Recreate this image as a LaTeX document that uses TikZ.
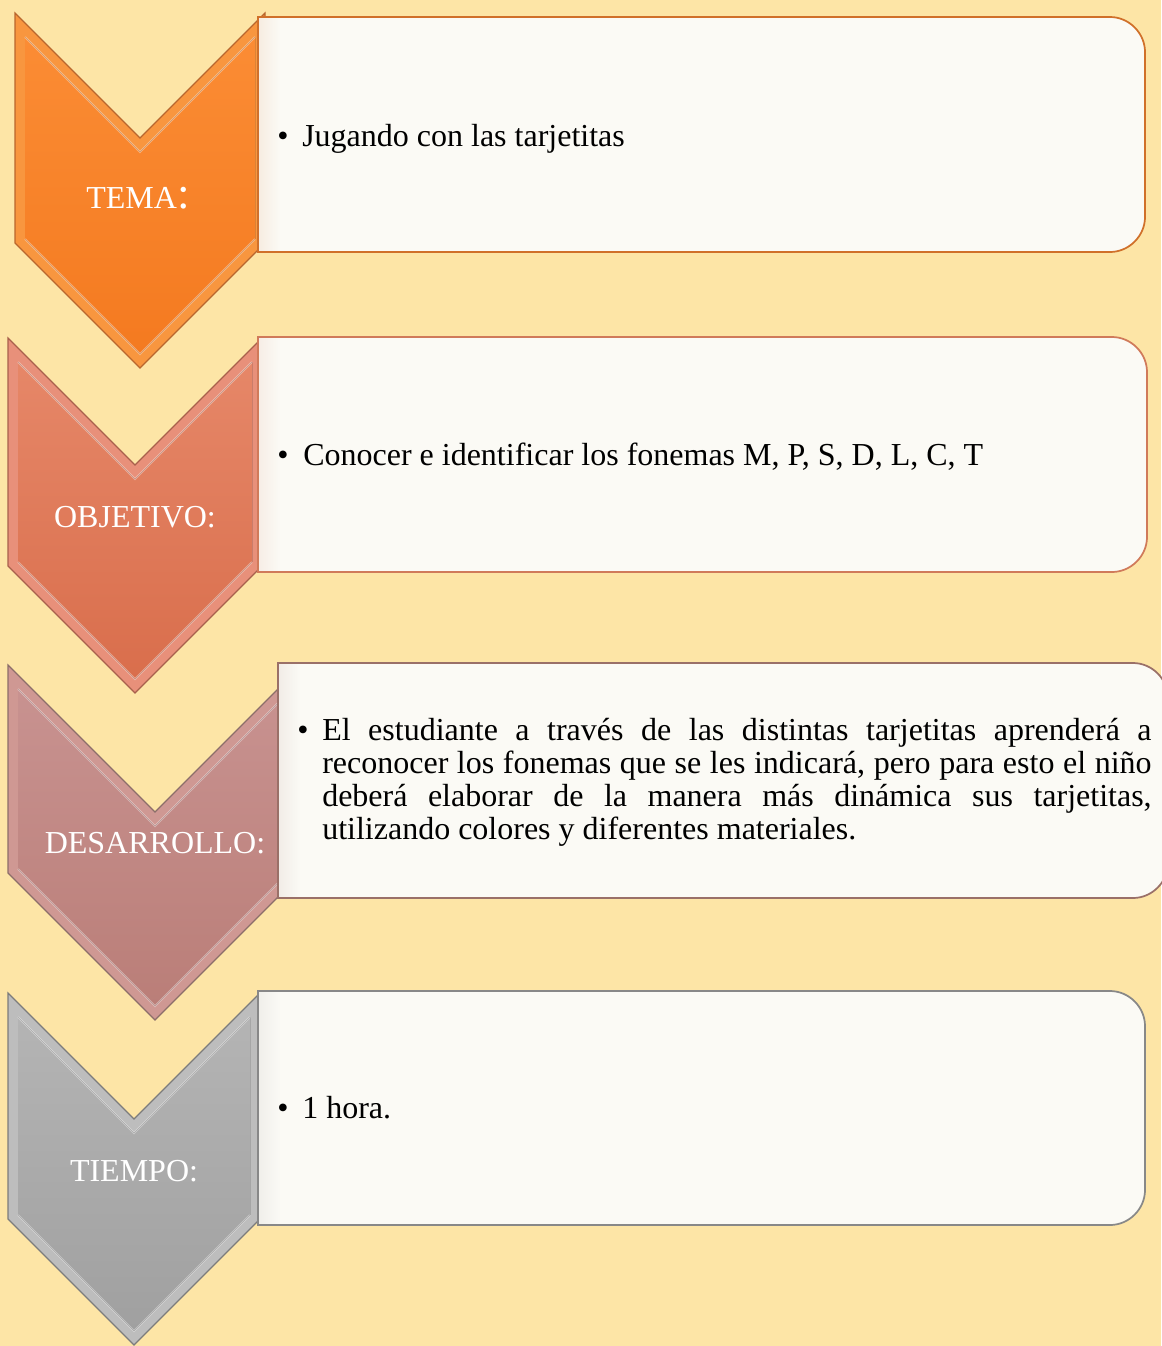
\documentclass[tikz,border=0pt]{standalone}
\usepackage{fontspec}
\setmainfont{Liberation Serif}
\definecolor{bg}{HTML}{FDE5A6}
\definecolor{boxfill}{HTML}{FBFAF5}
\definecolor{oA}{HTML}{FB8C34}\definecolor{oB}{HTML}{F47A20}\definecolor{oBev}{HTML}{F8963F}\definecolor{oLine}{HTML}{B8662E}
\definecolor{sA}{HTML}{E68768}\definecolor{sB}{HTML}{D96E4C}\definecolor{sBev}{HTML}{E8907A}\definecolor{sLine}{HTML}{A8604C}
\definecolor{rA}{HTML}{C89290}\definecolor{rB}{HTML}{BA7E78}\definecolor{rBev}{HTML}{CF9893}\definecolor{rLine}{HTML}{8C6E6A}
\definecolor{gA}{HTML}{B4B4B4}\definecolor{gB}{HTML}{A0A0A0}\definecolor{gBev}{HTML}{BDBDBD}\definecolor{gLine}{HTML}{7C7C7C}
\definecolor{bxA}{HTML}{D0702A}\definecolor{bxB}{HTML}{D07A5A}\definecolor{bxC}{HTML}{9A7068}\definecolor{bxD}{HTML}{888888}
\newcommand\mkchev[8]{%
  \fill[#5, draw=#8, line width=0.9pt] (#1,#3) -- (#2,{#3+#2-#1}) -- ({2*#2-#1},#3) -- ({2*#2-#1},#4) -- (#2,{#4+#2-#1}) -- (#1,#4) -- cycle;
  \fill[top color=#6, bottom color=#7] ({#1+10},{#3+24}) -- (#2,{#3+#2-#1+14}) -- ({2*#2-#1-10},{#3+24}) -- ({2*#2-#1-10},{#4-4}) -- (#2,{#4+#2-#1-14}) -- ({#1+10},{#4-4}) -- cycle;
  \draw[white, opacity=0.35, line width=1.5pt] ({#1+10},{#3+24}) -- (#2,{#3+#2-#1+14}) -- ({2*#2-#1-10},{#3+24});
  \draw[white, opacity=0.35, line width=1.5pt] ({#1+10},{#4-4}) -- (#2,{#4+#2-#1-14}) -- ({2*#2-#1-10},{#4-4});
}
\newcommand\mkbox[5]{%
  \fill[boxfill] (#1,#2) -- ({#3-35},#2) .. controls ({#3-16},#2) and (#3,{#2+16}) .. (#3,{#2+35}) -- (#3,{#4-35}) .. controls (#3,{#4-16}) and ({#3-16},#4) .. ({#3-35},#4) -- (#1,#4) -- cycle;
  \fill[left color=#5!10!boxfill, right color=boxfill] (#1,#2) rectangle ({#1+22},#4);
  \draw[#5, line width=1.3pt] (#1,#2) -- ({#3-35},#2) .. controls ({#3-16},#2) and (#3,{#2+16}) .. (#3,{#2+35}) -- (#3,{#4-35}) .. controls (#3,{#4-16}) and ({#3-16},#4) .. ({#3-35},#4) -- (#1,#4) -- cycle;
}
\tikzset{
  txt/.style={inner sep=0pt, font=\fontsize{24}{25}\selectfont, text=black},
  lbl/.style={inner sep=0pt, font=\fontsize{24}{25}\selectfont, text=white, anchor=base},
}
\begin{document}
\begin{tikzpicture}[x=0.75pt,y=-0.75pt]
\useasboundingbox (0,0) rectangle (1161,1346);
\fill[bg] (0,0) rectangle (1161,1346);
% chevrons
\mkchev{15}{140}{13}{243}{oBev}{oA}{oB}{oLine}
\mkchev{8}{135}{338}{566}{sBev}{sA}{sB}{sLine}
\mkchev{8}{155}{665}{873}{rBev}{rA}{rB}{rLine}
\mkchev{8}{134}{993}{1219}{gBev}{gA}{gB}{gLine}
% boxes
\mkbox{258}{17}{1145}{252}{bxA}
\mkbox{258}{337}{1147}{572}{bxB}
\mkbox{278}{663}{1168}{898}{bxC}
\mkbox{258}{991}{1145}{1225}{bxD}
% labels
\node[lbl] (l1) at (138,208) {TEMA{\fontsize{34}{34}\selectfont:}};
\node[lbl] (l2) at (135,527) {OBJETIVO:};
\node[lbl] (l3) at (155,853) {DESARROLLO:};
\node[lbl] (l4) at (134,1181) {TIEMPO:};
% box texts
\node[txt, anchor=base] (b1) at (283,146) {•};
\node[txt, anchor=base west] (t1) at (302,146) {Jugando con las tarjetitas};
\node[txt, anchor=base] (b2) at (283,465) {•};
\node[txt, anchor=base west] (t2) at (303,465) {Conocer e identificar los fonemas M, P, S, D, L, C, T};
\node[txt, anchor=base] (b3) at (303,740) {•};
\node[txt, anchor=base west] (d1) at (322,740) {\makebox[622pt][s]{El estudiante a través de las distintas tarjetitas aprenderá a}};
\node[txt, anchor=base west] (d2) at (322,773) {\makebox[622pt][s]{reconocer los fonemas que se les indicará, pero para esto el niño}};
\node[txt, anchor=base west] (d3) at (322,806) {\makebox[622pt][s]{deberá elaborar de la manera más dinámica sus tarjetitas,}};
\node[txt, anchor=base west] (d4) at (322,839) {utilizando colores y diferentes materiales.};
\node[txt, anchor=base] (b4) at (283,1118) {•};
\node[txt, anchor=base west] (t4) at (302,1118) {1 hora.};
\end{tikzpicture}
\end{document}
